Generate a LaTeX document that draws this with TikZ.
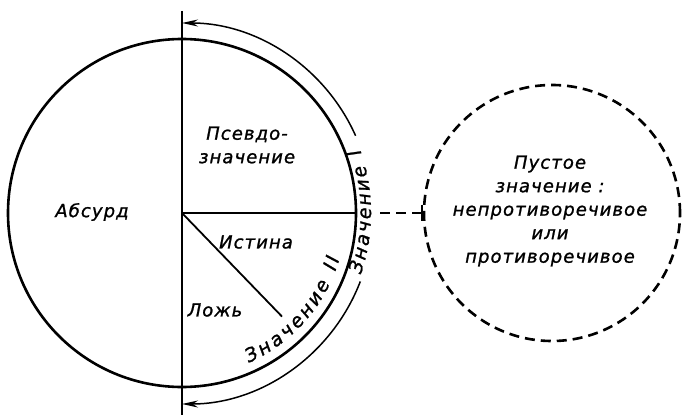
\documentclass[tikz,border=0pt]{standalone}
\usepackage{fontspec}
\newfontfamily\gf{DejaVu Sans}[LetterSpace=6,FakeBold=1.2]
\usetikzlibrary{arrows.meta,decorations.text,calc}
\begin{document}
\begin{tikzpicture}[x=1pt,y=1pt,
  lbl/.style={font=\gf\itshape\fontsize{18}{23.5}\selectfont, inner sep=0pt, align=center},
  thickline/.style={line width=2.6pt},
  midline/.style={line width=2pt},
  arcline/.style={line width=1.5pt, -{Stealth[length=16pt,width=7pt]}},
  dashline/.style={line width=2.6pt, dash pattern=on 10pt off 6pt}]
\useasboundingbox (0,0) rectangle (682,416);
\coordinate (C) at (182,203);
\node[draw, circle, thickline, minimum size=348pt, inner sep=0pt] (big) at (C) {};
\node[draw, circle, dashline, minimum size=256pt, inner sep=0pt] (small) at (552,203) {};
\coordinate (vtop) at (182,405);
\coordinate (vbot) at (182,1);
\coordinate (dstart) at (380,203);
\coordinate (dend) at ($(C)+(-46:144pt)$);
\draw[midline] (vtop) -- (vbot);
\draw[midline] (C) -- (big.east);
\draw[line width=1.8pt] (C) -- (dend);
\draw[dashline, -{Bar[width=16pt,line width=1.8pt]}] (dstart) -- (small.west);
% arrows
\draw[arcline] (C) ++(24:190pt) arc[start angle=24, end angle=90, radius=190pt];
\draw[arcline] (C) ++(-21:191pt) arc[start angle=-21, end angle=-90, radius=191pt];
% texts along arcs
\path[decorate, decoration={text along path, text align=fit to path,
  text={|\gf\itshape\fontsize{19}{20}\selectfont|Значение I}}]
  (C) ++(-19:189pt) arc[start angle=-19, end angle=20, radius=189pt];
\path[decorate, decoration={text along path, text align=fit to path,
  text={|\gf\itshape\fontsize{19}{20}\selectfont|Значение II}}]
  (C) ++(-66:164pt) arc[start angle=-66, end angle=-16, radius=164pt];
% labels
\node[lbl] (absurd) at (92,204) {Абсурд};
\node[lbl] (pseudo) at (247,271) {Псевдо-\\значение};
\node[lbl] (truth) at (256,174) {Истина};
\node[lbl] (false) at (215,106) {Ложь};
\node[lbl] (empty) at (550,205) {Пустое\\значение :\\непротиворечивое\\или\\противоречивое};
\end{tikzpicture}
\end{document}
